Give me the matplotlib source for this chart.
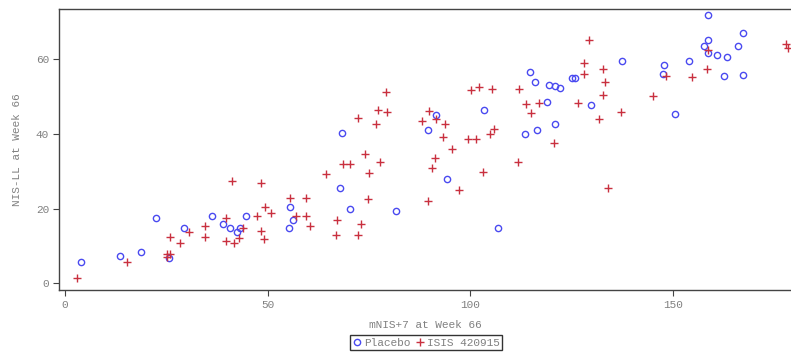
import numpy as np
import matplotlib
matplotlib.use('Agg')
import matplotlib.pyplot as plt

# Placebo group: mNIS+7 vs NIS-LL at week 66
placebo_x = [3.9, 13.6, 18.7, 22.4, 25.7, 29.3, 36.3, 39.0, 40.7, 42.3,
             43.2, 44.6, 55.6, 56.3, 55.3, 67.8, 70.2, 81.7, 94.3, 68.4,
             91.4, 89.5, 103.3, 114.6, 115.8, 119.4, 120.8, 122.1, 125.1, 125.7,
             118.9, 129.7, 120.9, 116.5, 113.4, 137.4, 106.7, 158.6, 167.3, 158.6,
             157.5, 165.9, 158.5, 160.7, 163.3, 153.8, 147.6, 147.4, 162.5, 167.3,
             150.5]
placebo_y = [5.8, 7.3, 8.4, 17.4, 6.9, 14.9, 17.9, 15.9, 14.9, 13.8,
             14.9, 17.9, 20.3, 16.9, 14.9, 25.4, 19.9, 19.3, 27.9, 40.2,
             45.1, 41.0, 46.4, 56.6, 53.9, 53.0, 52.7, 52.2, 54.8, 54.8,
             48.5, 47.7, 42.7, 41.0, 40.0, 59.4, 14.9, 71.7, 66.9, 65.2,
             63.6, 63.5, 61.5, 61.2, 60.5, 59.4, 58.4, 55.9, 55.5, 55.8,
             45.2]

# ISIS 420915 group
isis_x = [3.0, 15.3, 25.1, 25.9, 25.2, 25.8, 28.4, 30.5, 34.5, 34.5,
          39.7, 39.7, 41.3, 41.8, 42.9, 44.0, 47.3, 48.4, 48.3, 49.1,
          49.4, 50.8, 55.6, 59.4, 57.0, 59.4, 60.4, 64.4, 68.6, 70.2,
          74.1, 77.7, 75.0, 74.7, 67.2, 66.8, 72.9, 72.3, 91.3, 90.5,
          89.6, 79.1, 77.1, 79.5, 72.3, 76.8, 89.7, 91.5, 88.0, 93.7,
          93.1, 129.2, 128.1, 128.0, 132.6, 133.1, 132.8, 131.8, 126.6, 100.1,
          102.2, 105.2, 111.9, 113.6, 116.9, 115.0, 105.8, 104.8, 99.3, 101.4,
          95.4, 120.5, 111.8, 103.2, 97.2, 133.9, 158.6, 158.3, 154.7, 148.1,
          145.1, 137.2, 177.8, 178.2]
isis_y = [1.3, 5.8, 7.8, 7.8, 7.0, 12.4, 10.9, 13.8, 15.3, 12.4,
          17.4, 11.4, 27.4, 10.9, 12.0, 14.9, 18.1, 26.8, 13.9, 11.9,
          20.4, 18.9, 22.9, 22.9, 17.9, 17.9, 15.3, 29.3, 31.9, 31.9,
          34.6, 32.5, 29.6, 22.5, 16.8, 12.8, 15.9, 12.8, 33.4, 30.9,
          22.0, 51.2, 46.4, 45.8, 44.2, 42.5, 46.1, 43.9, 43.4, 42.5,
          39.1, 65.1, 58.9, 56.0, 57.4, 53.9, 50.5, 43.9, 48.1, 51.8,
          52.4, 52.0, 51.9, 47.9, 48.2, 45.5, 41.4, 39.9, 38.6, 38.5,
          35.9, 37.5, 32.5, 29.9, 24.9, 25.4, 62.4, 57.2, 55.1, 55.4,
          50.2, 45.9, 64.0, 62.9]

xticks = [0, 50, 100, 150]
yticks = [0, 20, 40, 60]

mono = 'Liberation Mono'
grey = '#808080'

fig = plt.figure(figsize=(7.91, 3.53), dpi=100)
ax = fig.add_axes([0.0752, 0.1785, 0.9248, 0.796])

ax.plot(placebo_x, placebo_y, linestyle='none', marker='o', markersize=4.5,
        markerfacecolor='none', markeredgecolor='#4a4af0', markeredgewidth=1.0,
        label='Placebo')
ax.plot(isis_x, isis_y, linestyle='none', marker='+', markersize=5.5,
        color='#c9303f', markeredgewidth=1.0, label='ISIS 420915')

ax.set_xlim(-1.36, 179.04)
ax.set_ylim(-1.79, 73.38)
ax.set_xticks(xticks)
ax.set_yticks(yticks)

# frame: left, bottom and top line only
ax.spines['right'].set_visible(False)
for side in ['left', 'bottom', 'top']:
    ax.spines[side].set_color('#444444')
    ax.spines[side].set_linewidth(1.0)

ax.tick_params(direction='out', length=4.5, width=0.8, color='#444444',
               labelcolor=grey, labelsize=8, pad=3)
for lbl in ax.get_xticklabels() + ax.get_yticklabels():
    lbl.set_family(mono)

ax.set_xlabel('mNIS+7 at Week 66', family=mono, fontsize=8, color=grey, labelpad=7)
ax.set_ylabel('NIS-LL at Week 66', family=mono, fontsize=8, color=grey, labelpad=10)

leg = fig.legend(loc='center', bbox_to_anchor=(426 / 791, 1 - 342.7 / 353), ncol=2,
                 frameon=True, fancybox=False, edgecolor='black',
                 prop={'family': mono, 'size': 8}, handletextpad=0.15,
                 columnspacing=0.4, borderpad=0.25, handlelength=0.9,
                 borderaxespad=0)
leg.get_frame().set_linewidth(1.0)
for t in leg.get_texts():
    t.set_color(grey)

plt.savefig('out.png', dpi=100)
